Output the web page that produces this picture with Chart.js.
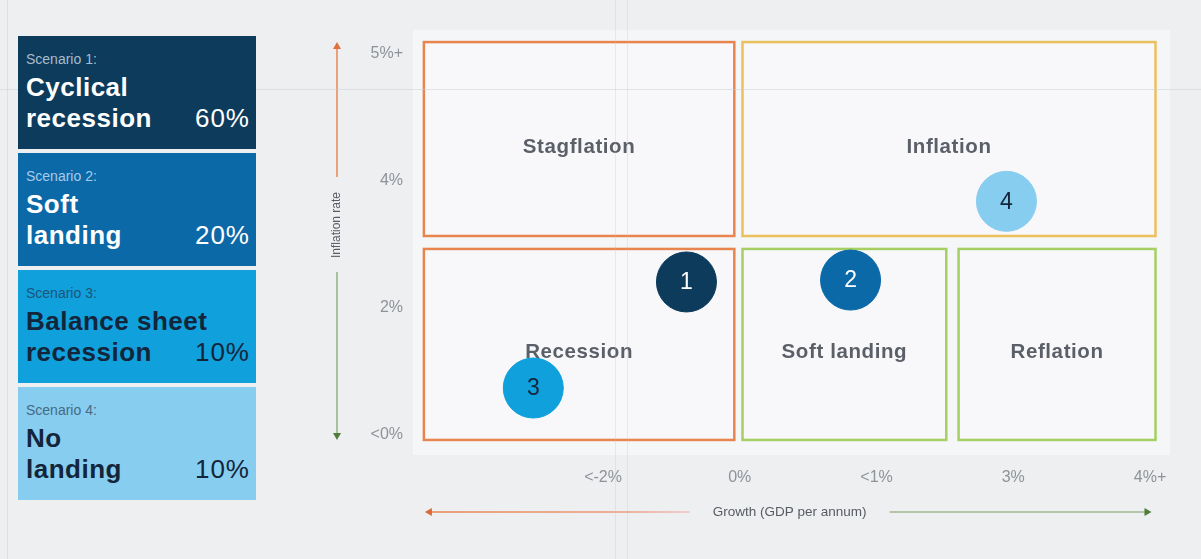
<!DOCTYPE html>
<html>
<head>
<meta charset="utf-8">
<title>Macro scenarios</title>
<script src="https://cdn.jsdelivr.net/npm/chart.js@4.4.1/dist/chart.umd.min.js"></script>
<style>
  html, body { margin: 0; padding: 0; background: #eeeff1; }
  #wrap { position: relative; width: 1201px; height: 559px; overflow: hidden;
          font-family: "Liberation Sans", Arial, Helvetica, sans-serif; }
  #wrap canvas { position: absolute; left: 0; top: 0; }
  .edge { position: absolute; left: 7px; top: 0; width: 1px; height: 559px; background: #dedfe3; }
  .guide { position: absolute; pointer-events: none; }
  .guide.v { top: 0; width: 1px; height: 559px; background: rgba(232, 180, 180, 0.3); }
  .guide.h { left: 0; width: 1201px; height: 1px; background: rgba(205, 206, 212, 0.5); }
  .card { position: absolute; left: 18px; width: 238px; height: 113px; z-index: 2; }
  .card .tag { position: absolute; left: 8px; top: 16px; font-size: 14px; line-height: 14px; white-space: nowrap; }
  .card .name { position: absolute; left: 8px; top: 36px; font-size: 26px; line-height: 31px;
                font-weight: bold; letter-spacing: 0.5px; white-space: nowrap; }
  .card .prob { position: absolute; right: 6px; top: 67px; font-size: 26px; line-height: 31px;
                letter-spacing: 1px; white-space: nowrap; }
</style>
</head>
<body>
<div id="wrap">
  <div class="edge"></div>
  <canvas id="matrix" width="1201" height="559"></canvas>
  <div id="cards"></div>
  <div class="guide v" style="left:615px"></div>
  <div class="guide v" style="left:627px"></div>
  <div class="guide h" style="top:89px"></div>
</div>
<script>
// Scenarios
const scenarioNumbers = ['1', '2', '3', '4'];
const scenarioNameLines = [['Cyclical', 'recession'], ['Soft', 'landing'], ['Balance sheet', 'recession'], ['No', 'landing']];
const scenarioProbabilities = [60, 20, 10, 10];
// Position of each scenario on the growth / inflation grid (in tick slots)
const scenarioGrowth = [0.61, 1.81, -0.51, 2.95];
const scenarioInflation = [1.205, 1.22, 0.37, 1.84];

// Axis tick labels (one per tick slot)
const growthTickLabels = ['<-2%', '0%', '<1%', '3%', '4%+'];
const inflationTickLabels = ['<0%', '2%', '4%', '5%+'];

// Regimes of the growth / inflation matrix
const regionNames = ['Stagflation', 'Inflation', 'Recession', 'Soft landing', 'Reflation'];
const regionGrowthFrom = [-1.31, 1.02, -1.31, 1.02, 2.6];
const regionGrowthTo = [0.96, 4.04, 0.96, 2.51, 4.04];
const regionInflationFrom = [1.567, 1.567, -0.039, -0.039, -0.039];
const regionInflationTo = [3.094, 3.094, 1.465, 1.465, 1.465];

// Styles
const scenarioColors = ['#0c3b5c', '#0b69a8', '#10a0dc', '#87cdef'];
const scenarioInk = ['#ffffff', '#ffffff', '#13253a', '#13253a'];
const scenarioTagInk = ['#a9bccb', '#a7cbe8', '#1d5478', '#466a83'];
const regionBorders = ['#e8854f', '#eac15c', '#e8854f', '#a5cf62', '#a5cf62'];
const FONT = '"Liberation Sans", Arial, Helvetica, sans-serif';

// Scenario cards on the left
const cards = document.getElementById('cards');
scenarioNumbers.forEach((n, i) => {
  const card = document.createElement('div');
  card.className = 'card';
  card.style.top = (36 + i * 117) + 'px';
  card.style.background = scenarioColors[i];
  card.style.color = scenarioInk[i];
  const tag = document.createElement('div');
  tag.className = 'tag';
  tag.style.color = scenarioTagInk[i];
  tag.textContent = 'Scenario ' + n + ':';
  const name = document.createElement('div');
  name.className = 'name';
  name.innerHTML = scenarioNameLines[i].join('<br>');
  const prob = document.createElement('div');
  prob.className = 'prob';
  prob.textContent = scenarioProbabilities[i] + '%';
  card.append(tag, name, prob);
  cards.appendChild(card);
});

// Light panel behind the matrix
const panel = {
  id: 'panel',
  beforeDraw(chart) {
    const { ctx, chartArea: a } = chart;
    ctx.save();
    ctx.fillStyle = '#f5f6f8';
    ctx.fillRect(a.left - 2, a.top, a.right - a.left + 2, a.bottom - a.top);
    ctx.restore();
  }
};

// Regime boxes with their names
const regions = {
  id: 'regions',
  beforeDatasetsDraw(chart) {
    const { ctx, scales: { x, y } } = chart;
    ctx.save();
    regionNames.forEach((name, i) => {
      const l = x.getPixelForValue(regionGrowthFrom[i]);
      const r = x.getPixelForValue(regionGrowthTo[i]);
      const t = y.getPixelForValue(regionInflationTo[i]);
      const b = y.getPixelForValue(regionInflationFrom[i]);
      ctx.fillStyle = '#f8f8fa';
      ctx.fillRect(l, t, r - l, b - t);
      ctx.strokeStyle = regionBorders[i];
      ctx.lineWidth = 2.5;
      ctx.strokeRect(l, t, r - l, b - t);
      ctx.fillStyle = '#5b5f68';
      ctx.font = 'bold 20.5px ' + FONT;
      ctx.letterSpacing = '0.6px';
      ctx.textAlign = 'center';
      ctx.textBaseline = 'alphabetic';
      ctx.fillText(name, (l + r) / 2, (t + b) / 2 + 14);
    });
    ctx.restore();
  }
};

// Scenario numbers inside the bubbles
const bubbleNumbers = {
  id: 'bubbleNumbers',
  afterDatasetsDraw(chart) {
    const { ctx } = chart;
    const meta = chart.getDatasetMeta(0);
    ctx.save();
    ctx.font = '23px ' + FONT;
    ctx.textAlign = 'center';
    ctx.textBaseline = 'middle';
    meta.data.forEach((el, i) => {
      ctx.fillStyle = scenarioInk[i];
      ctx.fillText(scenarioNumbers[i], el.x, el.y + 1);
    });
    ctx.restore();
  }
};

function arrowHead(ctx, x, y, dx, dy, color) {
  const s = 5;
  ctx.fillStyle = color;
  ctx.beginPath();
  ctx.moveTo(x, y);
  ctx.lineTo(x - dx * s * 1.4 - dy * s * 0.8, y - dy * s * 1.4 - dx * s * 0.8);
  ctx.lineTo(x - dx * s * 1.4 + dy * s * 0.8, y - dy * s * 1.4 + dx * s * 0.8);
  ctx.closePath();
  ctx.fill();
}

// Axis titles flanked by direction arrows
const axisArrows = {
  id: 'axisArrows',
  afterDraw(chart) {
    const { ctx, scales: { x, y } } = chart;
    const top = y.getPixelForValue(Math.max(...regionInflationTo));
    const bottom = y.getPixelForValue(Math.min(...regionInflationFrom));
    const left = x.getPixelForValue(Math.min(...regionGrowthFrom));
    const right = x.getPixelForValue(Math.max(...regionGrowthTo));
    const ax = x.left - 78;
    const ay = y.bottom + 57;
    ctx.save();
    ctx.lineWidth = 1.5;

    // vertical: inflation rate
    const midY = (top + bottom) / 2 - 16;
    ctx.strokeStyle = '#e98650';
    ctx.beginPath(); ctx.moveTo(ax, top + 2); ctx.lineTo(ax, midY - 48); ctx.stroke();
    arrowHead(ctx, ax, top, 0, -1, '#e07040');
    ctx.strokeStyle = '#8fb27a';
    ctx.beginPath(); ctx.moveTo(ax, midY + 47); ctx.lineTo(ax, bottom - 2); ctx.stroke();
    arrowHead(ctx, ax, bottom, 0, 1, '#4f7d3c');
    ctx.save();
    ctx.translate(ax, midY);
    ctx.rotate(-Math.PI / 2);
    ctx.fillStyle = '#575b63';
    ctx.font = '12px ' + FONT;
    ctx.textAlign = 'center';
    ctx.textBaseline = 'middle';
    ctx.fillText('Inflation rate', 0, 0);
    ctx.restore();

    // horizontal: growth
    const midX = (left + right) / 2;
    const g = ctx.createLinearGradient(left, 0, midX - 100, 0);
    g.addColorStop(0, '#e9834c');
    g.addColorStop(0.75, '#ec9a7a');
    g.addColorStop(1, '#efc3c6');
    ctx.strokeStyle = g;
    ctx.beginPath(); ctx.moveTo(left + 3, ay); ctx.lineTo(midX - 100, ay); ctx.stroke();
    arrowHead(ctx, left + 1, ay, -1, 0, '#d9683a');
    ctx.strokeStyle = '#9fb892';
    ctx.beginPath(); ctx.moveTo(midX + 100, ay); ctx.lineTo(right - 6, ay); ctx.stroke();
    arrowHead(ctx, right - 4, ay, 1, 0, '#4f7d3c');
    ctx.fillStyle = '#575b63';
    ctx.font = '13.5px ' + FONT;
    ctx.textAlign = 'center';
    ctx.textBaseline = 'middle';
    ctx.fillText('Growth (GDP per annum)', midX, ay);
    ctx.restore();
  }
};

new Chart(document.getElementById('matrix'), {
  type: 'bubble',
  data: {
    datasets: [{
      label: 'Scenarios',
      data: scenarioNumbers.map((n, i) => ({ x: scenarioGrowth[i], y: scenarioInflation[i], r: 30 })),
      backgroundColor: scenarioColors,
      borderColor: scenarioColors,
      borderWidth: 1
    }]
  },
  options: {
    responsive: false,
    animation: false,
    events: [],
    layout: { autoPadding: false, padding: { left: 300, right: 31, top: 30, bottom: 24 } },
    plugins: { legend: { display: false }, tooltip: { enabled: false } },
    scales: {
      x: {
        type: 'linear',
        min: -1.375,
        max: 4.146,
        grid: { display: false, drawTicks: false },
        border: { display: false },
        afterFit(scale) { scale.height = 80; },
        afterBuildTicks(scale) { scale.ticks = growthTickLabels.map((_, i) => ({ value: i })); },
        ticks: {
          autoSkip: false, maxRotation: 0, padding: 13,
          color: '#8e9299', font: { family: FONT, size: 16 },
          callback: (v) => growthTickLabels[v]
        }
      },
      y: {
        type: 'linear',
        min: -0.1575,
        max: 3.189,
        grid: { display: false, drawTicks: false },
        border: { display: false },
        afterFit(scale) { scale.width = 115; },
        afterBuildTicks(scale) { scale.ticks = inflationTickLabels.map((_, i) => ({ value: i })); },
        ticks: {
          autoSkip: false, padding: 12,
          color: '#8e9299', font: { family: FONT, size: 16 },
          callback: (v) => inflationTickLabels[v]
        }
      }
    }
  },
  plugins: [panel, regions, bubbleNumbers, axisArrows]
});
</script>
</body>
</html>
